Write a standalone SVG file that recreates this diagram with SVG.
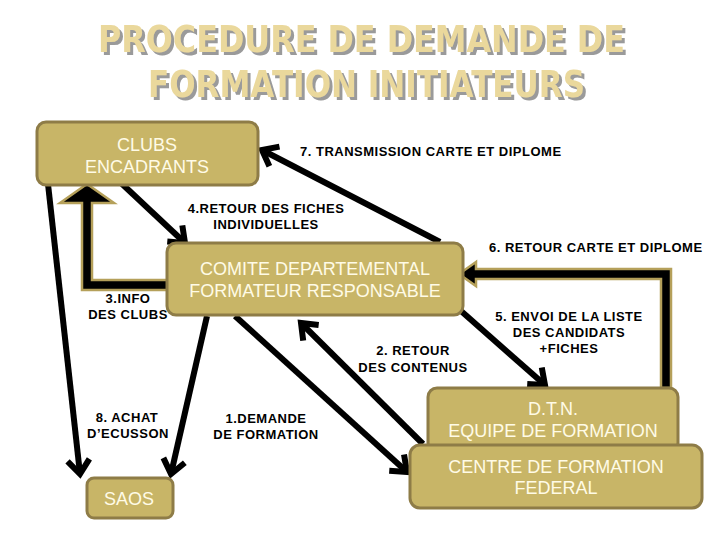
<svg xmlns="http://www.w3.org/2000/svg" width="720" height="540" viewBox="0 0 720 540">
<style>
.title{font-family:"DejaVu Sans","Liberation Sans",sans-serif;font-weight:bold;font-size:38px;fill:#ead89c;filter:url(#sh)}
.box{fill:#c8b567;stroke:#8e7c47;stroke-width:3}
.btext{font-family:"Liberation Sans",Arial,sans-serif;font-size:18px;fill:#fffbe6;text-anchor:middle}
.lbl{font-family:"Liberation Sans",Arial,sans-serif;font-weight:bold;font-size:13px;letter-spacing:0.5px;fill:#000;text-anchor:middle}
.ln{stroke:#000;stroke-width:6;fill:none;marker-end:url(#ah)}
.blk{fill:#000;stroke:#b5a05a;stroke-width:2.5;stroke-linejoin:miter}
</style>
<defs>
<filter id="sh" filterUnits="userSpaceOnUse" x="80" y="10" width="570" height="110">
<feDropShadow dx="3" dy="3" stdDeviation="0.4" flood-color="#9a9a9a" flood-opacity="1"/>
</filter>
<marker id="ah" markerUnits="userSpaceOnUse" viewBox="-20 -14 24 28" markerWidth="24" markerHeight="28" refX="0" refY="0" orient="auto" overflow="visible">
<path d="M-14,-11 L0,0 L-14,11" fill="none" stroke="#000" stroke-width="6" stroke-linejoin="miter"/>
</marker>
</defs>
<rect width="720" height="540" fill="#fff"/>
<g id="title">
<text class="title" x="98" y="52" textLength="527" lengthAdjust="spacingAndGlyphs">PROCEDURE DE DEMANDE DE</text>
<text class="title" x="148" y="97" textLength="437" lengthAdjust="spacingAndGlyphs">FORMATION INITIATEURS</text>
</g>
<g id="connectors">
<polygon class="blk" points="169,280 92,280 92,203 114,203 87,184 60,203 82,203 82,290 169,290"/>
<polygon class="blk" points="476,262 459,274 476,286 476,279 661,279 661,388 671,388 671,269 476,269"/>
<line class="ln" x1="440" y1="242" x2="262" y2="150"/>
<line class="ln" x1="120" y1="182" x2="185" y2="243"/>
<line class="ln" x1="452" y1="303" x2="545" y2="385"/>
<line class="ln" x1="423" y1="444" x2="301" y2="323"/>
<line class="ln" x1="235" y1="316" x2="407" y2="472"/>
<line class="ln" x1="207" y1="316" x2="171" y2="474"/>
<line class="ln" x1="48" y1="184" x2="80" y2="474"/>
<text class="lbl" x="300" y="156" style="text-anchor:start">7. TRANSMISSION CARTE ET DIPLOME</text>
<text class="lbl" x="266" y="213">4.RETOUR DES FICHES</text>
<text class="lbl" x="266" y="229">INDIVIDUELLES</text>
<text class="lbl" x="489" y="252" style="text-anchor:start">6. RETOUR CARTE ET DIPLOME</text>
<text class="lbl" x="569" y="321">5. ENVOI DE LA LISTE</text>
<text class="lbl" x="569" y="337">DES CANDIDATS</text>
<text class="lbl" x="569" y="353">+FICHES</text>
<text class="lbl" x="413" y="355">2. RETOUR</text>
<text class="lbl" x="413" y="372">DES CONTENUS</text>
<text class="lbl" x="266" y="423">1.DEMANDE</text>
<text class="lbl" x="266" y="439">DE FORMATION</text>
<text class="lbl" x="128" y="303">3.INFO</text>
<text class="lbl" x="128" y="319">DES CLUBS</text>
<text class="lbl" x="127" y="422">8. ACHAT</text>
<text class="lbl" x="128" y="438">D’ECUSSON</text>
</g>
<g id="clubs">
<rect class="box" x="37" y="122" width="221" height="63" rx="9"/>
<text class="btext" x="147" y="151">CLUBS</text>
<text class="btext" x="147" y="173">ENCADRANTS</text>
</g>
<g id="comite">
<rect class="box" x="167" y="243" width="296" height="72" rx="9"/>
<text class="btext" x="315" y="275">COMITE DEPARTEMENTAL</text>
<text class="btext" x="315" y="297">FORMATEUR RESPONSABLE</text>
</g>
<g id="dtn">
<rect class="box" x="428" y="388" width="250" height="64" rx="9"/>
<text class="btext" x="553" y="415">D.T.N.</text>
<text class="btext" x="553" y="437">EQUIPE DE FORMATION</text>
</g>
<g id="centre">
<rect class="box" x="410" y="445" width="292" height="63" rx="10"/>
<text class="btext" x="556" y="473">CENTRE DE FORMATION</text>
<text class="btext" x="556" y="494">FEDERAL</text>
</g>
<g id="saos">
<rect class="box" x="87" y="478" width="86" height="40" rx="7"/>
<text class="btext" x="129" y="505">SAOS</text>
</g>
</svg>
